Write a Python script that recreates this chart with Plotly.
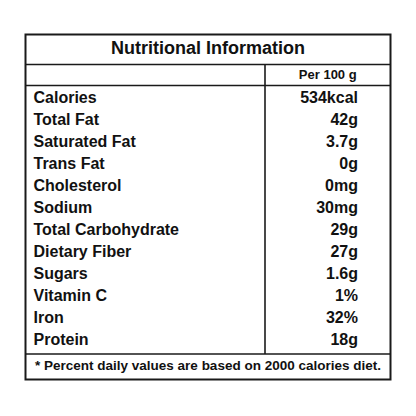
import plotly.graph_objects as go

# table content
title = "Nutritional Information"
column_header = "Per 100 g"
nutrients = ["Calories", "Total Fat", "Saturated Fat", "Trans Fat", "Cholesterol",
             "Sodium", "Total Carbohydrate", "Dietary Fiber", "Sugars", "Vitamin C",
             "Iron", "Protein"]
amounts = ["534kcal", "42g", "3.7g", "0g", "0mg", "30mg", "29g", "27g", "1.6g",
           "1%", "32%", "18g"]
footnote = "* Percent daily values are based on 2000 calories diet."

# box geometry (pixel space of the 416x416 page)
left, right = 25.5, 390.5
top, bottom = 34.5, 379.5
title_line = 64.5
header_line = 85.5
foot_line = 354
divider = 265
row_h = 22.05
first_row = 98.5

rows_y = [first_row + i * row_h for i in range(len(nutrients))]
ink = "#111111"
font = "Liberation Sans, Arial"

fig = go.Figure()

# nutrient names, left aligned
fig.add_trace(go.Scatter(
    x=[left + 8] * len(nutrients), y=rows_y, text=nutrients,
    mode="text", textposition="middle right",
    textfont=dict(family=font, size=16, color=ink, weight="bold"),
    hoverinfo="skip"))

# amounts, right aligned in the second column
fig.add_trace(go.Scatter(
    x=[358] * len(amounts), y=rows_y, text=amounts,
    mode="text", textposition="middle left",
    textfont=dict(family=font, size=16, color=ink, weight="bold"),
    hoverinfo="skip"))

# title, header and footnote
fig.add_trace(go.Scatter(
    x=[(left + right) / 2], y=[(top + title_line) / 2], text=[title],
    mode="text", textposition="middle center",
    textfont=dict(family=font, size=18, color=ink, weight="bold"),
    hoverinfo="skip"))
fig.add_trace(go.Scatter(
    x=[(divider + right) / 2], y=[(title_line + header_line) / 2 + 0.5], text=[column_header],
    mode="text", textposition="middle center",
    textfont=dict(family=font, size=13, color=ink, weight="bold"),
    hoverinfo="skip"))
fig.add_trace(go.Scatter(
    x=[(left + right) / 2], y=[(foot_line + bottom) / 2], text=[footnote],
    mode="text", textposition="middle center",
    textfont=dict(family=font, size=13.5, color=ink, weight="bold"),
    hoverinfo="skip"))

# borders
line_style = dict(color="#1a1a1a", width=1.6)
shapes = [
    dict(type="rect", x0=left, x1=right, y0=top, y1=bottom,
         line=dict(color="#1a1a1a", width=2)),
    dict(type="line", x0=left, x1=right, y0=title_line, y1=title_line, line=line_style),
    dict(type="line", x0=left, x1=right, y0=header_line, y1=header_line, line=line_style),
    dict(type="line", x0=left, x1=right, y0=foot_line, y1=foot_line, line=line_style),
    dict(type="line", x0=divider, x1=divider, y0=title_line, y1=foot_line, line=line_style),
]
for s in shapes:
    s.update(xref="x", yref="y")

# the page body has an 8px margin, so the figure starts at page pixel 8
fig.update_layout(
    width=400, height=400,
    margin=dict(l=0, r=0, t=0, b=0),
    paper_bgcolor="white", plot_bgcolor="white",
    showlegend=False,
    shapes=shapes,
    xaxis=dict(range=[8, 408], visible=False, fixedrange=True),
    yaxis=dict(range=[408, 8], visible=False, fixedrange=True),
)

fig.write_html("out.html", config=dict(displayModeBar=False))
